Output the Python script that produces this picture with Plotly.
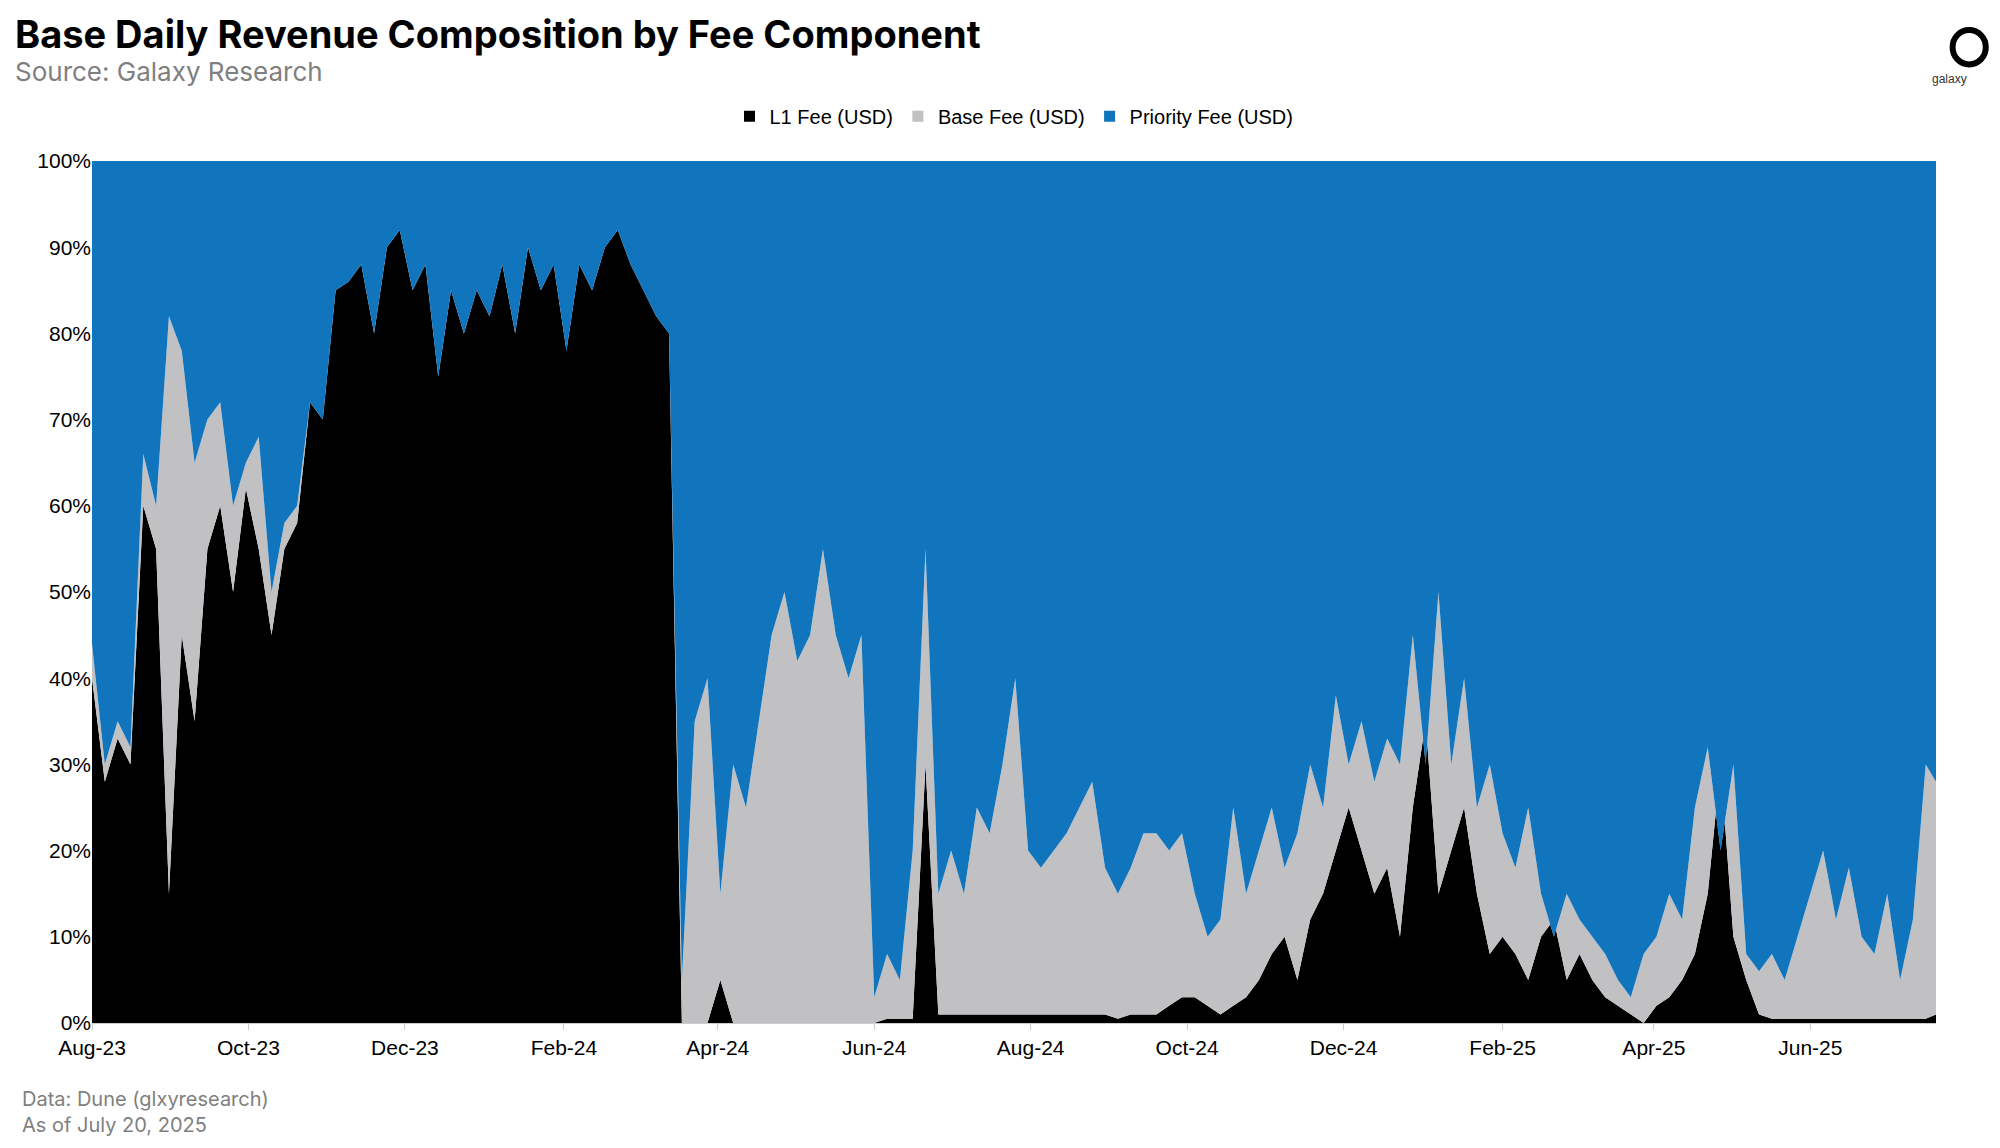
import pandas as pd
import plotly.graph_objects as go

# 5-day samples, Aug 1 2023 .. Jul 20 2025 (% of daily revenue)
l1_share = [40, 28, 33, 30, 60, 55, 15, 45, 35, 55, 60, 50, 62, 55, 45, 55, 58, 72, 70, 85,
            86, 88, 80, 90, 92, 85, 88, 75, 85, 80, 85, 82, 88, 80, 90, 85, 88, 78, 88, 85,
            90, 92, 88, 85, 82, 80, 0, 0, 0, 5, 0, 0, 0, 0, 0, 0, 0, 0, 0, 0,
            0, 0, 0.5, 0.5, 0.5, 30, 1, 1, 1, 1, 1, 1, 1, 1, 1, 1, 1, 1, 1, 1,
            0.5, 1, 1, 1, 2, 3, 3, 2, 1, 2, 3, 5, 8, 10, 5, 12, 15, 20, 25, 20,
            15, 18, 10, 25, 35, 15, 20, 25, 15, 8, 10, 8, 5, 10, 12, 5, 8, 5, 3, 2,
            1, 0, 2, 3, 5, 8, 15, 30, 10, 5, 1, 0.5, 0.5, 0.5, 0.5, 0.5, 0.5, 0.5, 0.5, 0.5,
            0.5, 0.5, 0.5, 0.5, 1, 1]
top_share = [44, 30, 35, 32, 66, 60, 82, 78, 65, 70, 72, 60, 65, 68, 50, 58, 60, 72, 70, 85,
             86, 88, 80, 90, 92, 85, 88, 75, 85, 80, 85, 82, 88, 80, 90, 85, 88, 78, 88, 85,
             90, 92, 88, 85, 82, 80, 5, 35, 40, 15, 30, 25, 35, 45, 50, 42, 45, 55, 45, 40,
             45, 3, 8, 5, 20, 55, 15, 20, 15, 25, 22, 30, 40, 20, 18, 20, 22, 25, 28, 18,
             15, 18, 22, 22, 20, 22, 15, 10, 12, 25, 15, 20, 25, 18, 22, 30, 25, 38, 30, 35,
             28, 33, 30, 45, 30, 50, 30, 40, 25, 30, 22, 18, 25, 15, 10, 15, 12, 10, 8, 5,
             3, 8, 10, 15, 12, 25, 32, 20, 30, 8, 6, 8, 5, 10, 15, 20, 12, 18, 10, 8,
             15, 5, 12, 30, 28]

dates = list(pd.date_range("2023-08-01", periods=144, freq="5D")) + [pd.Timestamp("2025-07-20")]
base_share = [t - l for t, l in zip(top_share, l1_share)]
priority_share = [100 - t for t in top_share]

fig = go.Figure()
for name, vals, col in [("L1 Fee (USD)", l1_share, "#000000"),
                        ("Base Fee (USD)", base_share, "#C1C0C2"),
                        ("Priority Fee (USD)", priority_share, "#1175BE")]:
    fig.add_trace(go.Scatter(x=dates, y=vals, name=name, stackgroup="one", mode="lines",
                             line=dict(width=0, color=col), fillcolor=col, showlegend=False))
    # square legend swatch
    fig.add_trace(go.Scatter(x=[None], y=[None], name=name, mode="markers",
                             marker=dict(symbol="square", size=11, color=col)))

fig.update_layout(
    width=2000, height=1148, plot_bgcolor="white", paper_bgcolor="white",
    margin=dict(l=84, r=72, t=153, b=133),
    font=dict(family="Liberation Sans, Arial", size=21, color="#000"),
    legend=dict(orientation="h", x=0.5, xanchor="center", y=1.052, yanchor="middle",
                font=dict(size=20), traceorder="normal", itemwidth=30),
    xaxis=dict(type="date", range=["2023-08-01", "2025-07-20"], tickformat="%b-%y",
               tickvals=pd.date_range("2023-08-01", "2025-06-01", freq="2MS"),
               ticks="outside", ticklen=6, tickcolor="#ccc", showgrid=False,
               showline=True, linecolor="#ccc"),
    yaxis=dict(range=[0, 100], dtick=10, ticksuffix="%", showgrid=False, zeroline=False),
)

fig.add_annotation(text="<b>Base Daily Revenue Composition by Fee Component</b>", xref="paper", yref="paper",
                   x=-0.043, y=1.176, xanchor="left", yanchor="top", showarrow=False,
                   font=dict(family="Inter", size=38, color="#000"))
fig.add_annotation(text="Source: Galaxy Research", xref="paper", yref="paper",
                   x=-0.043, y=1.124, xanchor="left", yanchor="top", showarrow=False,
                   font=dict(family="Inter", size=26, color="#7f7f7f"))
fig.add_annotation(text="Data: Dune (glxyresearch)<br>As of July 20, 2025", xref="paper", yref="paper",
                   x=-0.039, y=-0.072, xanchor="left", yanchor="top", showarrow=False, align="left",
                   font=dict(family="Inter", size=20, color="#7f7f7f"))
# logo
fig.add_shape(type="circle", xref="paper", yref="paper", x0=1.009, x1=1.027, y0=1.112, y1=1.152,
              line=dict(color="#000", width=6), fillcolor="white")
fig.add_annotation(text="galaxy", xref="paper", yref="paper", x=1.018, y=1.106,
                   yanchor="top", showarrow=False, font=dict(size=12, color="#333"))

fig.write_html("out.html")
